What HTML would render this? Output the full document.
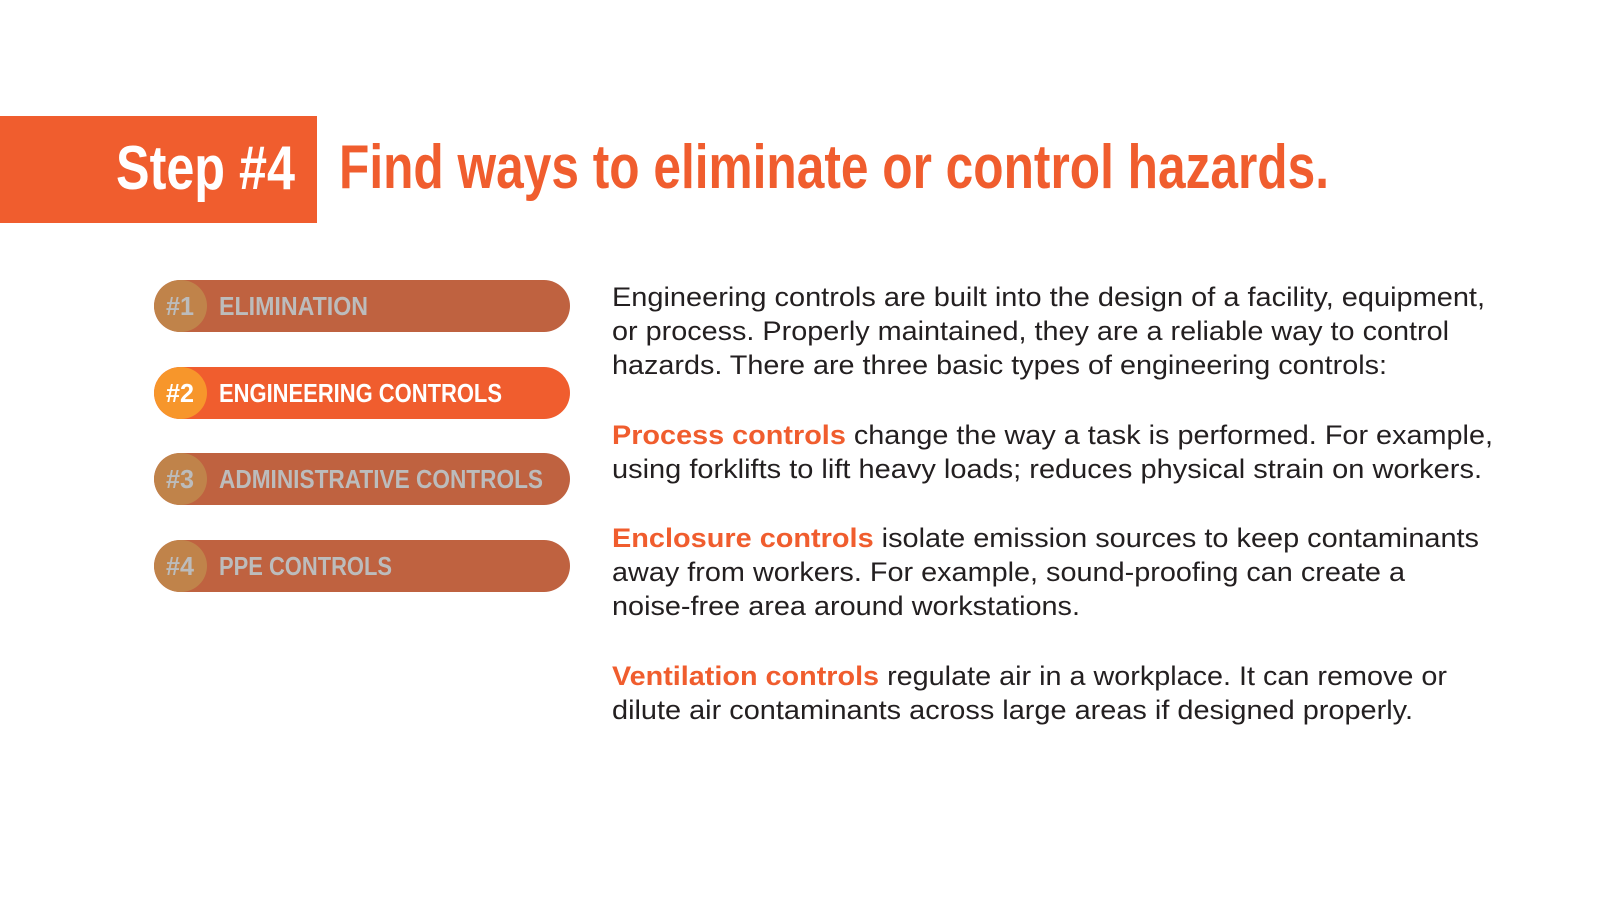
<!DOCTYPE html>
<html><head><meta charset="utf-8">
<style>
html,body{margin:0;padding:0;background:#fff;}
body{width:1618px;height:909px;position:relative;overflow:hidden;font-family:"Liberation Sans",Arial,sans-serif;}
.fit{position:absolute;white-space:nowrap;transform-origin:0 50%;}
.hdr{position:absolute;left:0;top:116px;width:317px;height:107px;background:#f05d2e;}
.pill{position:absolute;left:154px;width:416px;height:52px;border-radius:26px;background:#bf6240;overflow:hidden;}
.pill.active{background:#f05d2e;}
.circ{position:absolute;left:0;top:0;width:53px;height:52px;border-radius:26px;background:#c0834a;}
.active .circ{background:#f7962b;}
.ptxt{font-weight:bold;font-size:26px;color:#bcbcbc;line-height:52px;}
.active .ptxt{color:#fff;}
.body{font-size:27px;color:#231f20;line-height:34px;}
.hl{color:#f05d2e;font-weight:bold;}
</style></head>
<body>
<div class="hdr"></div>
<div class="fit" data-w="179" style="left:116px;top:133px;font-size:62px;font-weight:bold;color:#fff;line-height:72px;">Step #4</div>
<div class="fit" data-w="990" style="left:339px;top:132px;font-size:62px;font-weight:bold;color:#f05d2e;line-height:72px;">Find ways to eliminate or control hazards.</div>

<div class="pill" style="top:280px"><div class="circ"></div></div>
<div class="pill active" style="top:367px"><div class="circ"></div></div>
<div class="pill" style="top:453px"><div class="circ"></div></div>
<div class="pill" style="top:540px"><div class="circ"></div></div>

<div class="fit ptxt" data-w="28" style="left:166px;top:280px">#1</div>
<div class="fit ptxt" data-w="149" style="left:219px;top:280px">ELIMINATION</div>
<div class="fit ptxt" data-w="28" style="left:166px;top:367px;color:#fff">#2</div>
<div class="fit ptxt" data-w="283" style="left:219px;top:367px;color:#fff">ENGINEERING CONTROLS</div>
<div class="fit ptxt" data-w="28" style="left:166px;top:453px">#3</div>
<div class="fit ptxt" data-w="324" style="left:219px;top:453px">ADMINISTRATIVE CONTROLS</div>
<div class="fit ptxt" data-w="28" style="left:166px;top:540px">#4</div>
<div class="fit ptxt" data-w="173" style="left:219px;top:540px">PPE CONTROLS</div>

<div class="fit body" data-w="873" style="left:612px;top:280px">Engineering controls are built into the design of a facility, equipment,</div>
<div class="fit body" data-w="837" style="left:612px;top:314px">or process. Properly maintained, they are a reliable way to control</div>
<div class="fit body" data-w="775" style="left:612px;top:348px">hazards. There are three basic types of engineering controls:</div>

<div class="fit body" data-w="881" style="left:612px;top:418px"><span class="hl">Process controls</span> change the way a task is performed. For example,</div>
<div class="fit body" data-w="870" style="left:612px;top:452px">using forklifts to lift heavy loads; reduces physical strain on workers.</div>

<div class="fit body" data-w="867" style="left:612px;top:521px"><span class="hl">Enclosure controls</span> isolate emission sources to keep contaminants</div>
<div class="fit body" data-w="793" style="left:612px;top:555px">away from workers. For example, sound-proofing can create a</div>
<div class="fit body" data-w="468" style="left:612px;top:589px">noise-free area around workstations.</div>

<div class="fit body" data-w="835" style="left:612px;top:659px"><span class="hl">Ventilation controls</span> regulate air in a workplace. It can remove or</div>
<div class="fit body" data-w="801" style="left:612px;top:693px">dilute air contaminants across large areas if designed properly.</div>

<script>
document.querySelectorAll('.fit').forEach(function(el){
  var w=el.getBoundingClientRect().width;
  var t=parseFloat(el.getAttribute('data-w'));
  if(w>0) el.style.transform='scaleX('+(t/w)+')';
});
</script>
</body></html>
